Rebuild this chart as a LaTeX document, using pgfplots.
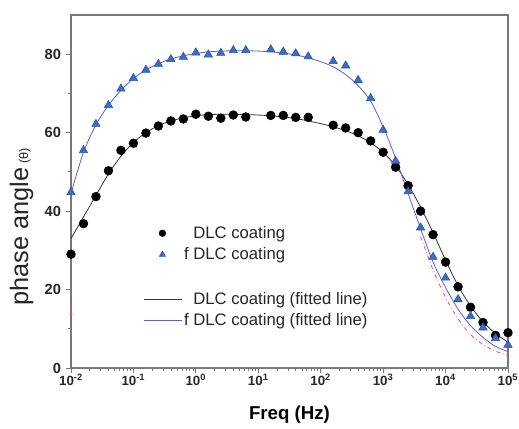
\documentclass[border=0pt]{standalone}
\usepackage{fontspec}
\setmainfont{Liberation Sans}
\usepackage{pgfplots}
\pgfplotsset{compat=1.18}
\usepackage{pgfplotstable}
\definecolor{tri}{RGB}{62,108,196}
\definecolor{trid}{RGB}{40,80,170}
\definecolor{fitb}{RGB}{95,95,205}
\definecolor{framec}{RGB}{120,120,120}
\definecolor{redl}{RGB}{225,80,120}

\pgfplotstableread{
f y
0.01 29
0.015849 36.8
0.025119 43.7
0.039811 50.3
0.063096 55.5
0.1 57.3
0.15849 59.9
0.25119 61.7
0.39811 63.0
0.63096 63.5
1 64.7
1.5849 64.2
2.5119 63.7
3.9811 64.5
6.3096 64.0
15.849 64.4
25.119 64.4
39.811 63.9
63.096 63.9
158.49 61.9
251.19 61.2
398.11 60.0
630.96 57.9
1000 55.0
1584.9 51.2
2511.9 46.5
3981.1 40.0
6309.6 34.0
10000 27.0
15849 20.7
25119 15.5
39811 11.6
63096 8.3
100000 9.0
}\dlc

\pgfplotstableread{
f y
0.01 44.8
0.015849 55.5
0.025119 62.2
0.039811 67.0
0.063096 71.2
0.1 73.9
0.15849 76.0
0.25119 77.5
0.39811 78.7
0.63096 79.3
1 80.4
1.5849 79.9
2.5119 80.3
3.9811 81.0
6.3096 81.0
15.849 81.2
25.119 80.6
39.811 80.2
63.096 79.4
158.49 78.2
251.19 77.1
398.11 73.4
630.96 68.8
1000 60.7
1584.9 52.8
2511.9 45.0
3981.1 35.8
6309.6 28.3
10000 23.0
15849 17.5
25119 13.2
39811 10.3
63096 7.6
100000 5.9
}\fdlc

\pgfplotstableread{
f y
0.01 33
0.015849 38.5
0.025119 44
0.039811 49.5
0.063096 54
0.1 57.5
0.15849 60
0.25119 61.8
0.39811 63
0.63096 63.8
1 64.3
1.5849 64.6
2.5119 64.7
3.9811 64.7
6.3096 64.6
10 64.5
15.849 64.3
25.119 64.0
39.811 63.6
63.096 63.0
100 62.3
158.49 61.5
251.19 60.5
398.11 59.2
630.96 57.4
1000 55.0
1584.9 51.5
2511.9 46.8
3981.1 41.0
6309.6 34.5
10000 27.5
15849 21.0
25119 15.8
39811 11.8
63096 8.8
100000 6.6
}\dlcfit

\pgfplotstableread{
f y
0.01 44.5
0.015849 55
0.025119 62
0.039811 67
0.063096 70.8
0.1 73.8
0.15849 76
0.25119 77.6
0.39811 78.8
0.63096 79.6
1 80.2
1.5849 80.6
2.5119 80.8
3.9811 80.9
6.3096 80.9
10 80.8
15.849 80.6
25.119 80.3
39.811 79.8
63.096 79.1
100 78.1
158.49 76.8
251.19 74.8
398.11 72
630.96 68
1000 61.5
1584.9 53.5
2511.9 44.5
3981.1 35.5
6309.6 27
10000 20.5
15849 15
25119 10.8
39811 7.8
63096 5.5
100000 4.2
}\fdlcfit

\pgfplotstableread{
f y
3981.1 33.5
6309.6 25
10000 18
15849 12.5
25119 8.5
39811 6
63096 4.3
100000 3.2
}\redfit

\begin{document}
\begin{tikzpicture}
\path[use as bounding box] (-53.25pt,-45.75pt) rectangle (336pt,276pt);
\begin{axis}[
  at={(0pt,0pt)}, anchor=south west,
  scale only axis, width=327.75pt, height=264.75pt,
  xmode=log, xmin=0.01, xmax=100000,
  ymin=0, ymax=90,
  xtick={0.01,0.1,1,10,100,1000,10000,100000},
  xticklabels={10\textsuperscript{-2},10\textsuperscript{-1},10\textsuperscript{0},10\textsuperscript{1},10\textsuperscript{2},10\textsuperscript{3},10\textsuperscript{4},10\textsuperscript{5}},
  ytick={0,20,40,60,80},
  minor ytick={10,30,50,70},
  tick align=outside,
  xtick pos=bottom, ytick pos=left,
  major tick length=4pt, minor tick length=2.5pt,
  axis line style={framec, line width=0.8pt},
  every tick/.style={framec, line width=0.6pt},
  /pgf/number format/assume math mode=true,
  yticklabel style={font=\fontsize{11}{13}\selectfont\bfseries, text=black!85},
  xticklabel style={font=\fontsize{10}{12}\selectfont\bfseries, text=black!85, yshift=3pt},
  xlabel={Freq (Hz)},
  xlabel style={font=\fontsize{14}{16}\selectfont\bfseries, at={(rel axis cs:0.5,0)}, anchor=center, yshift=-35pt},
  ylabel={phase angle\,{\fontsize{9.5}{10}\selectfont(θ)}},
  ylabel style={font=\fontsize{19}{22}\selectfont, at={(rel axis cs:0,0.40)}, anchor=center, yshift=37pt, text=black!85},
  legend style={draw=none, fill=none, at={(rel axis cs:0.165,0.41)}, anchor=north west,
    font=\fontsize{12.5}{15}\selectfont, inner sep=0pt, row sep=1.5pt, text=black!85},
  legend cell align=left,
  legend image code/.code={\draw[mark repeat=2,mark phase=2,#1] plot coordinates {(0pt,0pt) (14pt,0pt) (28pt,0pt)};},
]
\addplot[only marks, mark=*, mark size=3.3pt, fill=black, draw=black,
  legend image post style={mark size=2.5pt}] table[x=f,y=y] {\dlc};
\addlegendentry{\ \ DLC coating}
\addplot[only marks, mark=triangle*, mark size=3.6pt, fill=tri, draw=trid,
  legend image post style={mark size=2.7pt}] table[x=f,y=y] {\fdlc};
\addlegendentry{f DLC coating}
\addlegendimage{empty legend}
\addlegendentry{\strut}
\addplot[black!80, line width=0.6pt, smooth] table[x=f,y=y] {\dlcfit};
\addlegendentry{\ \ DLC coating (fitted line)}
\addplot[fitb, line width=0.6pt, smooth] table[x=f,y=y] {\fdlcfit};
\addlegendentry{f DLC coating (fitted line)}
\addplot[redl, line width=0.6pt, dash dot, smooth, forget plot] table[x=f,y=y] {\redfit};
\addplot[redl, only marks, mark=*, mark size=0.9pt, forget plot] coordinates {(0.01,13.8)};
\end{axis}
\end{tikzpicture}
\end{document}
